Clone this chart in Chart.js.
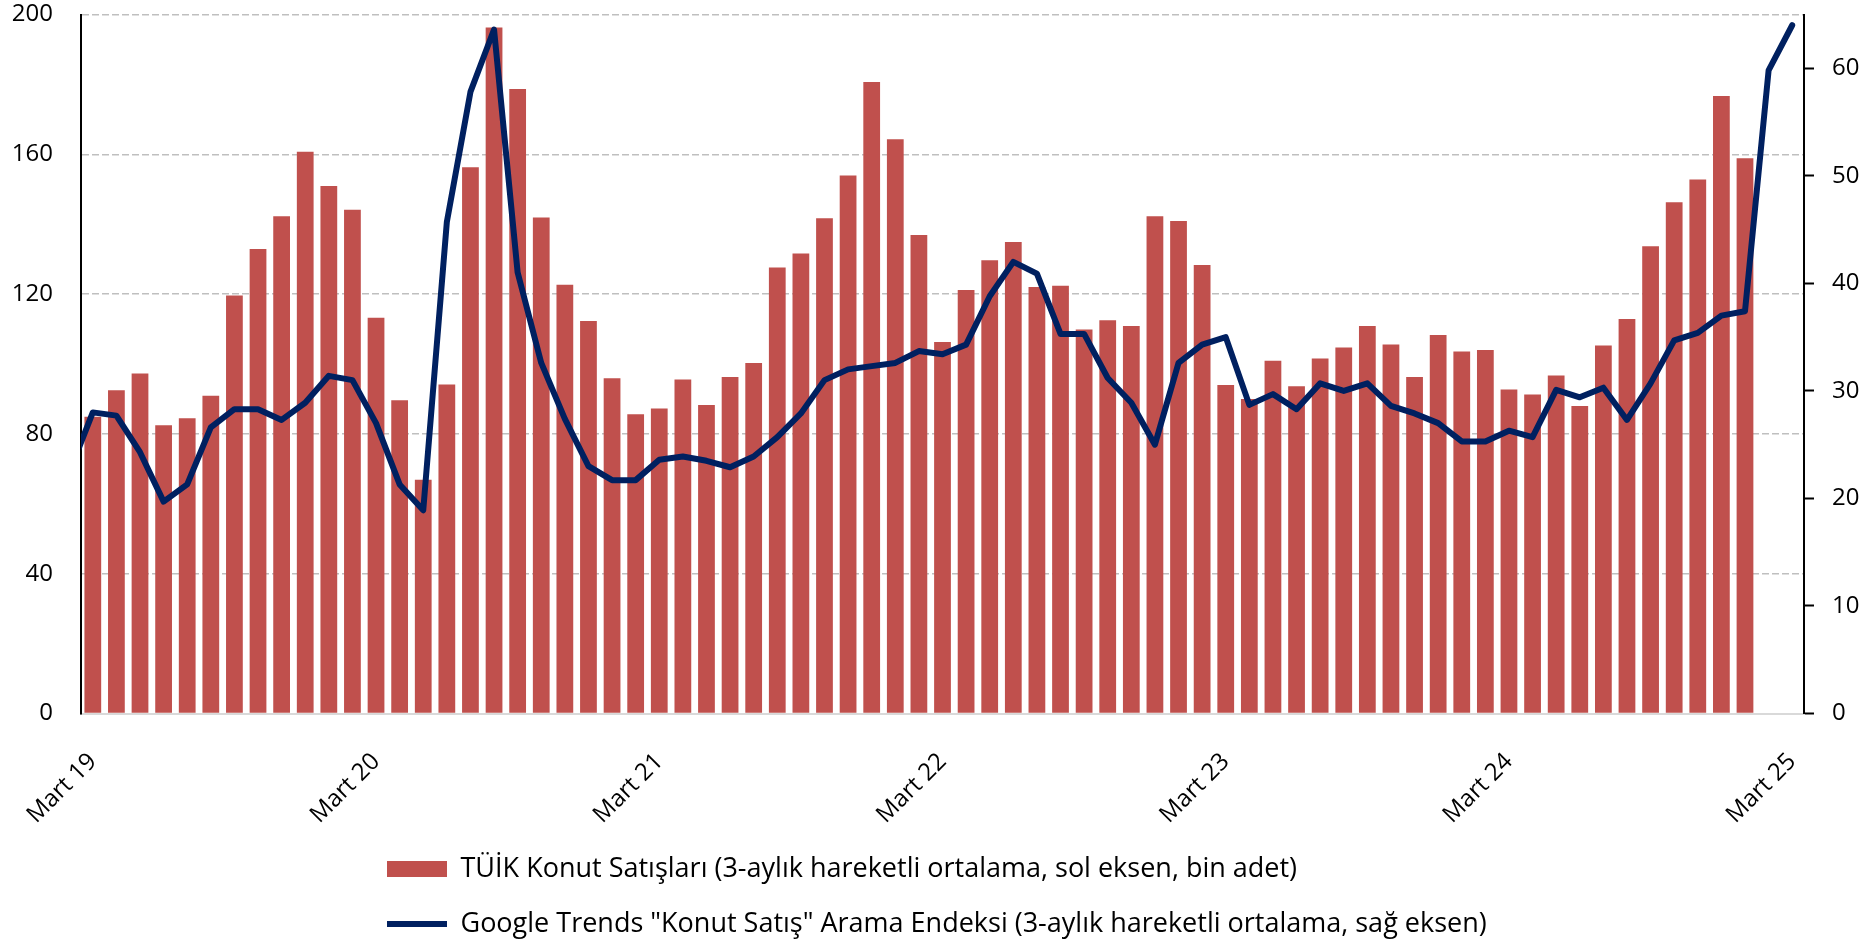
<!DOCTYPE html>
<html>
<head>
<meta charset="utf-8">
<script src="https://cdn.jsdelivr.net/npm/chart.js@4.4.1/dist/chart.umd.min.js"></script>
<style>
html,body{margin:0;padding:0;background:#fff;overflow:hidden}
#wrap{width:1876px;height:944px;position:relative}
</style>
</head>
<body>
<div id="wrap"><canvas id="c" width="1876" height="944"></canvas></div>
<script>
// Months (first entry only feeds the line's start at the left edge)
const categories = [
  'Şub 19','Mar 19','Nis 19','May 19','Haz 19','Tem 19','Ağu 19','Eyl 19','Eki 19','Kas 19','Ara 19','Oca 20','Şub 20',
  'Mar 20','Nis 20','May 20','Haz 20','Tem 20','Ağu 20','Eyl 20','Eki 20','Kas 20','Ara 20','Oca 21','Şub 21',
  'Mar 21','Nis 21','May 21','Haz 21','Tem 21','Ağu 21','Eyl 21','Eki 21','Kas 21','Ara 21','Oca 22','Şub 22',
  'Mar 22','Nis 22','May 22','Haz 22','Tem 22','Ağu 22','Eyl 22','Eki 22','Kas 22','Ara 22','Oca 23','Şub 23',
  'Mar 23','Nis 23','May 23','Haz 23','Tem 23','Ağu 23','Eyl 23','Eki 23','Kas 23','Ara 23','Oca 24','Şub 24',
  'Mar 24','Nis 24','May 24','Haz 24','Tem 24','Ağu 24','Eyl 24','Eki 24','Kas 24','Ara 24','Oca 25','Şub 25',
  'Mar 25'
];

const tickLabels = ['Mart 19','Mart 20','Mart 21','Mart 22','Mart 23','Mart 24','Mart 25'];

// TÜİK Konut Satışları (bin adet, sol eksen)
const salesTUIK = [
  null,
  84.9, 92.5, 97.3, 82.5, 84.5, 90.9, 119.6, 132.9, 142.3, 160.7, 150.9, 144.1,
  113.2, 89.6, 66.9, 94.1, 156.3, 196.3, 178.7, 141.9, 122.7, 112.3, 95.9, 85.6,
  87.3, 95.6, 88.3, 96.3, 100.3, 127.6, 131.6, 141.7, 153.9, 180.7, 164.3, 136.9,
  106.3, 121.2, 129.7, 134.9, 122.0, 122.4, 109.9, 112.5, 110.9, 142.3, 140.9, 128.3,
  94.0, 90.0, 100.9, 93.6, 101.6, 104.7, 110.9, 105.6, 96.3, 108.3, 103.6, 104.0,
  92.7, 91.3, 96.7, 88.0, 105.3, 112.9, 133.7, 146.3, 152.8, 176.7, 158.9,
  null, null
];

// Google Trends "Konut Satış" arama endeksi (sağ eksen)
const googleTrends = [
  22.4,
  28.0, 27.7, 24.3, 19.7, 21.3, 26.6, 28.3, 28.3, 27.3, 28.9, 31.4, 31.0,
  27.0, 21.3, 18.9, 45.7, 57.8, 63.6, 41.0, 32.6, 27.4, 23.0, 21.7, 21.7,
  23.6, 23.9, 23.5, 22.9, 23.9, 25.7, 27.9, 31.0, 32.0, 32.3, 32.6, 33.7,
  33.4, 34.3, 38.8, 42.0, 40.9, 35.3, 35.3, 31.2, 28.9, 25.0, 32.6, 34.3,
  35.0, 28.7, 29.7, 28.3, 30.7, 30.0, 30.7, 28.6, 27.9, 27.0, 25.3, 25.3,
  26.3, 25.7, 30.1, 29.4, 30.3, 27.3, 30.7, 34.7, 35.4, 37.0, 37.4, 59.8,
  64.0
];

const seriesNames = [
  'TÜİK Konut Satışları (3-aylık hareketli ortalama, sol eksen, bin adet)',
  'Google Trends "Konut Satış" Arama Endeksi (3-aylık hareketli ortalama, sağ eksen)'
];

const FONT = '"Open Sans", Lato, sans-serif';
const W = 1876, H = 944;
const AREA = {left: 81, right: 1804, top: 14.5, bottom: 713.5};
const LEGEND = {boxLeft: 387, row1Center: 869, fontSize: 27, rowGap: 55};
const TICK_FONT = 24;

const legendPlacer = {
  id: 'legendPlacer',
  beforeDraw(chart) {
    const lg = chart.legend;
    if (!lg) return;
    const pad = lg.options.labels.padding;
    lg.left = LEGEND.boxLeft - pad;
    lg.top = LEGEND.row1Center - pad - LEGEND.fontSize / 2;
  }
};

const chart = new Chart(document.getElementById('c'), {
  type: 'bar',
  data: {
    labels: categories,
    datasets: [
      {
        type: 'bar',
        label: seriesNames[0],
        data: salesTUIK,
        yAxisID: 'y',
        backgroundColor: '#C0504D',
        borderWidth: 0,
        categoryPercentage: 1.0,
        barPercentage: 0.71,
        pointStyle: 'rect',
        order: 1
      },
      {
        type: 'line',
        label: seriesNames[1],
        data: googleTrends,
        yAxisID: 'y1',
        borderColor: '#002060',
        backgroundColor: '#002060',
        borderWidth: 6,
        pointRadius: 0,
        pointHoverRadius: 0,
        pointStyle: 'line',
        tension: 0,
        borderJoinStyle: 'round',
        borderCapStyle: 'round',
        fill: false,
        order: 0
      }
    ]
  },
  options: {
    responsive: false,
    animation: false,
    devicePixelRatio: 1,
    layout: {padding: {top: AREA.top, left: 0, right: 0, bottom: 0}},
    font: {family: FONT},
    plugins: {
      tooltip: {enabled: false},
      legend: {
        display: true,
        position: 'bottom',
        align: 'start',
        labels: {
          font: {family: FONT, size: LEGEND.fontSize},
          color: '#000',
          usePointStyle: true,
          pointStyleWidth: 60,
          boxHeight: 16,
          padding: LEGEND.rowGap - LEGEND.fontSize,
          sort: (a, b) => a.datasetIndex - b.datasetIndex
        }
      }
    },
    scales: {
      x: {
        type: 'category',
        min: categories[1],
        offset: true,
        grid: {display: false, offset: true},
        border: {display: true, color: '#d9d9d9', width: 2},
        ticks: {
          autoSkip: false,
          maxRotation: 45,
          minRotation: 45,
          padding: 26,
          labelOffset: 0,
          color: '#000',
          font: {family: FONT, size: TICK_FONT},
          callback: function(value) {
            const c = categories[value];
            if (!c || !c.startsWith('Mar ')) return '';
            const yy = c.slice(-2);
            return tickLabels.find(t => t.endsWith(yy)) || '';
          }
        },
        afterFit: function(s) {
          const lh = s.chart.legend ? s.chart.legend.height : 0;
          s.height = H - lh - AREA.bottom;
        }
      },
      y: {
        type: 'linear',
        position: 'left',
        min: 0,
        max: 200,
        ticks: {stepSize: 40, padding: 28, color: '#000', font: {family: FONT, size: TICK_FONT}},
        grid: {
          drawTicks: false,
          lineWidth: 1.5,
          color: (ctx) => (ctx.tick && ctx.tick.value === 0) ? 'rgba(0,0,0,0)' : '#bfbfbf'
        },
        border: {display: true, color: '#000', width: 2, dash: [7, 3]},
        afterFit: function(s) { s.width = AREA.left; s.paddingTop = 0; s.paddingBottom = 0; }
      },
      y1: {
        type: 'linear',
        position: 'right',
        min: 0,
        max: 65,
        ticks: {stepSize: 10, padding: 18, color: '#000', font: {family: FONT, size: TICK_FONT}},
        afterBuildTicks: function(s) { s.ticks = s.ticks.filter(t => t.value % 10 === 0); },
        grid: {
          drawOnChartArea: false,
          drawTicks: true,
          tickLength: 10,
          tickColor: '#000',
          tickWidth: 2
        },
        border: {display: true, color: '#000', width: 2},
        afterFit: function(s) { s.width = W - AREA.right; s.paddingTop = 0; s.paddingBottom = 0; }
      }
    }
  },
  plugins: [legendPlacer]
});
</script>
</body>
</html>
